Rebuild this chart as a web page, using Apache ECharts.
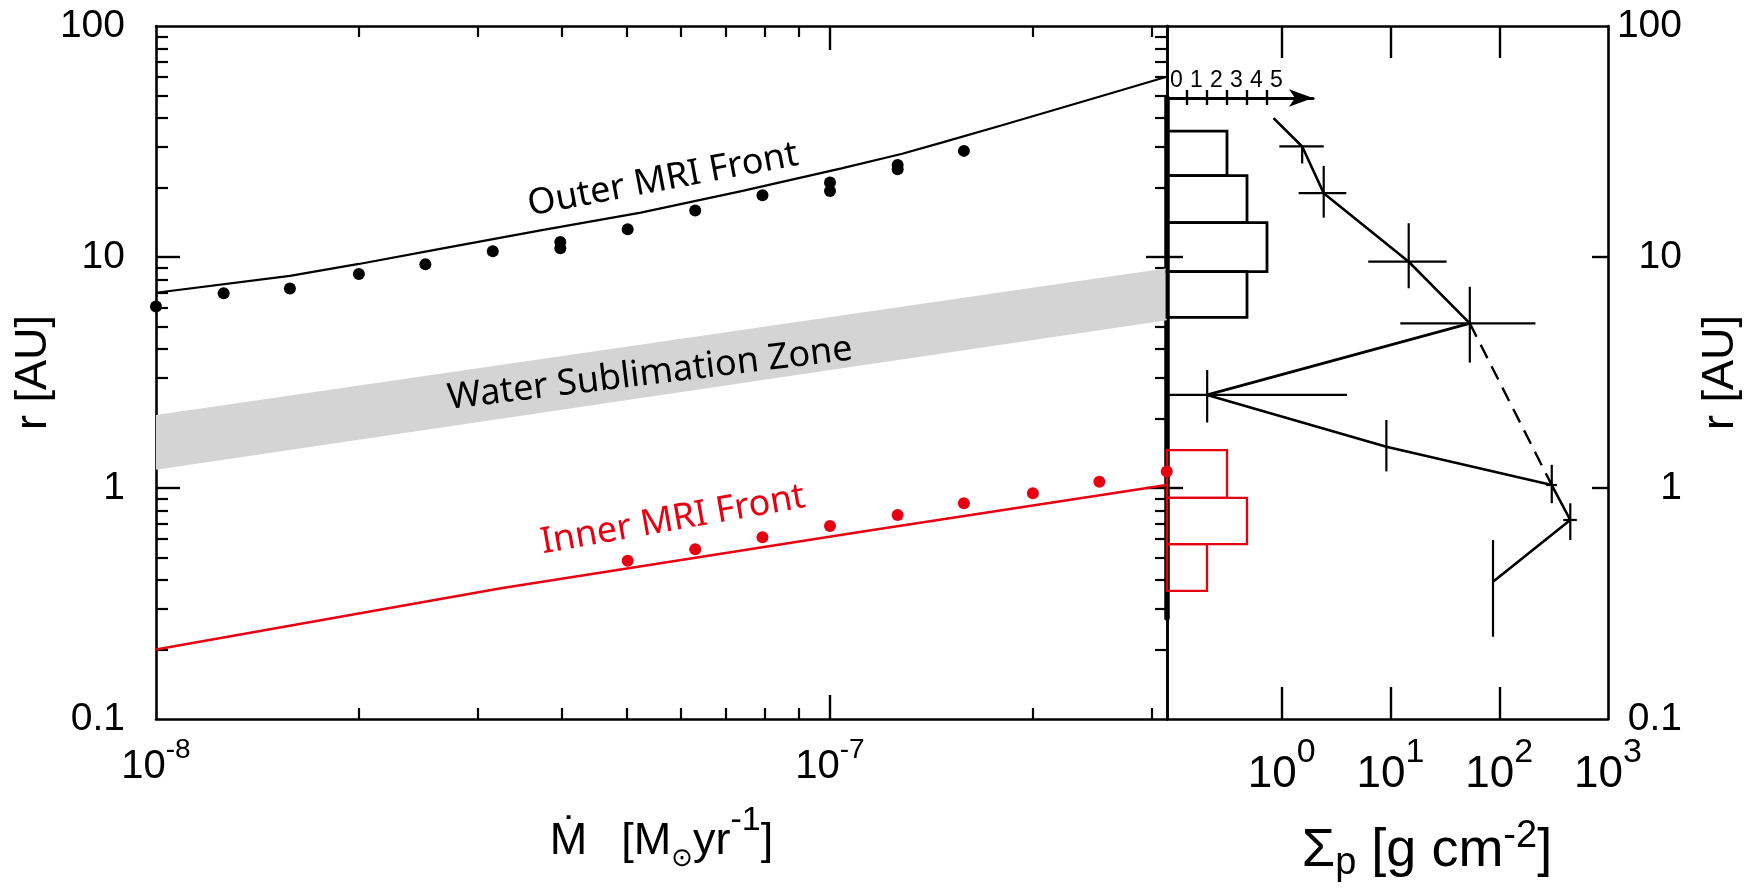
<!DOCTYPE html>
<html>
<head>
<meta charset="utf-8">
<script src="https://cdn.jsdelivr.net/npm/echarts@6/dist/echarts.min.js"></script>
<style>html,body{margin:0;padding:0;background:#fff}#c{width:1755px;height:889px}</style>
</head>
<body>
<div id="c"></div>
<script>
// ---------------- data ----------------
// left panel: accretion rate (Msun/yr) vs radius (AU)
const mdotLabelValues = [1e-8, 1e-7];
const mdotMajorTicks = [1e-7];
const mdotMinorTicks = [2e-8, 3e-8, 4e-8, 5e-8, 6e-8, 7e-8, 8e-8, 9e-8, 2e-7, 3e-7];
const rLabelValues = [0.1, 1, 10, 100];
const rMajorTicks = [1, 10];
const rMinorTicks = [0.2, 0.3, 0.4, 0.5, 0.6, 0.7, 0.8, 0.9, 2, 3, 4, 5, 6, 7, 8, 9, 20, 30, 40, 50, 60, 70, 80, 90];

const outerFrontM = [1e-8, 1.58e-8, 2e-8, 2.64e-8, 3.72e-8, 5.24e-8, 7.39e-8, 1.04e-7, 1.28e-7, 1.46e-7, 1.8e-7, 2.53e-7, 3.16e-7];
const outerFrontR = [7.0, 8.28, 9.33, 10.84, 13.03, 15.56, 19.28, 24.2, 28.0, 31.2, 37.2, 49.8, 60.3];
const outerDotsM = [1e-8, 1.26e-8, 1.58e-8, 2e-8, 2.51e-8, 3.16e-8, 3.98e-8, 3.98e-8, 5.01e-8, 6.31e-8, 7.94e-8, 1e-7, 1e-7, 1.26e-7, 1.26e-7, 1.58e-7];
const outerDotsR = [6.1, 6.96, 7.3, 8.45, 9.3, 10.6, 11.6, 10.9, 13.2, 15.9, 18.5, 21.0, 19.3, 25.0, 24.0, 28.8];

const innerFrontM = [1e-8, 3.25e-8, 1.113e-7, 3.16e-7];
const innerFrontR = [0.2, 0.368, 0.647, 1.03];
const innerDotsM = [5.01e-8, 6.31e-8, 7.94e-8, 1e-7, 1.26e-7, 1.58e-7, 2e-7, 2.51e-7, 3.16e-7];
const innerDotsR = [0.484, 0.543, 0.612, 0.685, 0.764, 0.859, 0.948, 1.065, 1.18];

const snowBandM = [1e-8, 3.16e-7];
const snowBandLow = [1.2, 5.33];
const snowBandHigh = [2.07, 8.93];

// right panel: surface density (g/cm^2) vs radius (AU)
const sigmaLabelValues = [1, 10, 100, 1000];
const sigmaTicks = [1, 10, 100];
const sigmaP  = [0.84, 1.54, 2.43, 14.7, 53.6, 0.206, 9.16, 304, 450, 87.6];
const sigmaR  = [39.9, 30.1, 18.9, 9.54, 5.16, 2.53, 1.51, 1.03, 0.727, 0.393];
const sigmaLo = [0.84, 0.95, 1.43, 6.24, 12.3, 0.092, 9.16, 270, 388, 87.6];
const sigmaHi = [0.84, 2.43, 3.92, 32.8, 215, 3.98, 9.16, 340, 517, 87.6];
const radLo   = [39.9, 25.4, 14.8, 7.32, 3.49, 1.92, 1.18, 0.859, 0.595, 0.227];
const radHi   = [39.9, 30.1, 24.8, 14.0, 7.43, 3.24, 1.97, 1.26, 0.859, 0.595];
const dashedSigma = [53.6, 304];
const dashedR = [5.16, 1.03];

// histograms (number of objects per radial bin)
const countLabelValues = [0, 1, 2, 3, 4, 5];
const countTicks = [1, 2, 3, 4, 5];
const histOuterEdges = [5.48, 8.64, 14.1, 22.5, 35.1];
const histOuterCounts = [4, 5, 4, 3];
const histInnerEdges = [0.359, 0.572, 0.908, 1.46];
const histInnerCounts = [2, 4, 3];

// axis ranges
const MDOT_RANGE = [1e-8, Math.pow(10, -6.5)];
const R_RANGE = [0.1, 100];
const SIGMA_RANGE = [0.088, 1000];
const HIST_R_RANGE = [0.274, 48.8];
const COUNT_RANGE = [0, 7.3];

// ---------------- chart ----------------
const BLACK = '#000';
const RED = '#e60012';
const FONT = '"Liberation Sans", Arial, Helvetica, sans-serif';
const NOTO = '"Noto Sans", "DejaVu Sans", sans-serif';
const axLine = { show: true, onZero: false, lineStyle: { color: BLACK, width: 2.6 } };
const noLine = { show: false, onZero: false };

function powLabel(v) {
  const e = Math.round(Math.log10(v));
  return '{b|10}{s|' + e + '}';
}
function plainLabel(v) {
  return v >= 1 ? String(Math.round(v)) : String(+v.toPrecision(2));
}
function tick(values, len, inside, width) {
  return { show: true, inside: inside, length: len, customValues: values, lineStyle: { color: BLACK, width: width || 2.4 } };
}
const off = { show: false };

const chart = echarts.init(document.getElementById('c'), null, { renderer: 'canvas' });

const grids = [
  { left: 156, top: 26, width: 1011, height: 693, outerBoundsMode: 'none', containLabel: false },
  { left: 1167, top: 26, width: 441, height: 693, outerBoundsMode: 'none', containLabel: false },
  { left: 1167, top: 98, width: 146, height: 520, outerBoundsMode: 'none', containLabel: false }
];

const leftLogX = { gridIndex: 0, type: 'log', logBase: 10, min: MDOT_RANGE[0], max: MDOT_RANGE[1], splitLine: off, minorTick: off, minorSplitLine: off };
const rightLogX = { gridIndex: 1, type: 'log', logBase: 10, min: SIGMA_RANGE[0], max: SIGMA_RANGE[1], splitLine: off, minorTick: off };
const countX = { gridIndex: 2, type: 'value', min: COUNT_RANGE[0], max: COUNT_RANGE[1], splitLine: off };

const xAxes = [
  Object.assign({}, leftLogX, {
    position: 'bottom', axisLine: axLine, axisTick: tick(mdotMajorTicks, 24, true),
    axisLabel: {
      show: true, customValues: mdotLabelValues, margin: 17, formatter: powLabel, verticalAlign: 'top',
      rich: {
        b: { fontFamily: FONT, fontSize: 40, lineHeight: 51, verticalAlign: 'bottom', color: BLACK },
        s: { fontFamily: FONT, fontSize: 28, lineHeight: 28, verticalAlign: 'top', color: BLACK }
      }
    },
    name: '{m|\u1E40}{b|  [M}{sub|\u2299}{b|yr}{sup|-1}{b|]}',
    nameLocation: 'middle', nameGap: 85, nameMoveOverlap: false,
    nameTextStyle: {
      rich: {
        m: { fontFamily: FONT, fontSize: 45, lineHeight: 68, padding: [15.5, 9, 0, 0], verticalAlign: 'top', color: BLACK },
        b: { fontFamily: FONT, fontSize: 45, lineHeight: 68, padding: [15.5, 0, 0, 0], verticalAlign: 'top', color: BLACK },
        sup: { fontFamily: FONT, fontSize: 34, lineHeight: 34, verticalAlign: 'top', color: BLACK },
        sub: { fontFamily: '"DejaVu Sans", ' + FONT, fontSize: 26, lineHeight: 26, verticalAlign: 'bottom', color: BLACK }
      }
    }
  }),
  Object.assign({}, leftLogX, { position: 'bottom', axisLine: noLine, axisTick: tick(mdotMinorTicks, 11, true, 2.2), axisLabel: off }),
  Object.assign({}, leftLogX, { position: 'top', axisLine: axLine, axisTick: tick(mdotMajorTicks, 24, true), axisLabel: off }),
  Object.assign({}, leftLogX, { position: 'top', axisLine: noLine, axisTick: tick(mdotMinorTicks, 11, true, 2.2), axisLabel: off }),
  Object.assign({}, rightLogX, {
    position: 'bottom', axisLine: axLine, axisTick: tick(sigmaTicks, 32, true),
    axisLabel: {
      show: true, customValues: sigmaLabelValues, margin: 17, formatter: powLabel, verticalAlign: 'top',
      rich: {
        b: { fontFamily: FONT, fontSize: 44, lineHeight: 61, verticalAlign: 'bottom', color: BLACK },
        s: { fontFamily: FONT, fontSize: 34, lineHeight: 34, verticalAlign: 'top', color: BLACK }
      }
    },
    name: '{b|\u03A3}{sub|p}{b| [g cm}{sup|-2}{b|]}',
    nameLocation: 'middle', nameGap: 99, nameMoveOverlap: false,
    nameTextStyle: {
      padding: [0, 0, 0, 79],
      rich: {
        b: { fontFamily: FONT, fontSize: 54, lineHeight: 65, padding: [6.6, 0, 0, 0], verticalAlign: 'top', color: BLACK },
        sup: { fontFamily: FONT, fontSize: 38, lineHeight: 38, verticalAlign: 'top', color: BLACK },
        sub: { fontFamily: FONT, fontSize: 38, lineHeight: 38, verticalAlign: 'bottom', color: BLACK }
      }
    }
  }),
  Object.assign({}, rightLogX, { position: 'top', axisLine: axLine, axisTick: tick(sigmaTicks, 32, true), axisLabel: off }),
  Object.assign({}, countX, {
    position: 'top',
    axisLine: { show: true, onZero: false, symbol: ['none', 'arrow'], symbolSize: [13, 24], lineStyle: { color: BLACK, width: 3.2 } },
    axisTick: tick(countTicks, 8, false, 2.4),
    axisLabel: { show: true, customValues: countLabelValues, margin: 6, align: 'left', padding: [0, 0, 0, 3],
      fontFamily: FONT, fontSize: 23, color: BLACK }
  }),
  Object.assign({}, countX, { position: 'top', axisLine: noLine, axisTick: tick(countTicks, 7, true, 2.4), axisLabel: off })
];

const leftLogY = { gridIndex: 0, type: 'log', logBase: 10, min: R_RANGE[0], max: R_RANGE[1], splitLine: off, minorTick: off };
const rightLogY = { gridIndex: 1, type: 'log', logBase: 10, min: R_RANGE[0], max: R_RANGE[1], splitLine: off, minorTick: off };
const rLabelStyle = { fontFamily: FONT, fontSize: 39, color: BLACK, formatter: plainLabel, customValues: rLabelValues, show: true };

const yAxes = [
  Object.assign({}, leftLogY, {
    position: 'left', axisLine: axLine, axisTick: tick(rMajorTicks, 24, true),
    axisLabel: Object.assign({}, rLabelStyle, { margin: 31 }),
    name: 'r [AU]', nameLocation: 'middle', nameGap: 100, nameRotate: 90, nameMoveOverlap: false,
    nameTextStyle: { fontFamily: FONT, fontSize: 45, color: BLACK }
  }),
  Object.assign({}, leftLogY, { position: 'left', axisLine: noLine, axisTick: tick(rMinorTicks, 12, true, 2.2), axisLabel: off }),
  Object.assign({}, leftLogY, { position: 'right', axisLine: axLine, axisTick: tick(rMajorTicks, 21, true), axisLabel: off }),
  Object.assign({}, leftLogY, { position: 'right', axisLine: noLine, axisTick: tick(rMinorTicks, 12, true, 2.2), axisLabel: off }),
  Object.assign({}, rightLogY, { position: 'left', axisLine: axLine, axisTick: tick(rMajorTicks, 16, true), axisLabel: off }),
  Object.assign({}, rightLogY, {
    position: 'right', axisLine: axLine, axisTick: tick(rMajorTicks, 16, true),
    axisLabel: Object.assign({}, rLabelStyle, { margin: 74, align: 'right' }),
    name: 'r [AU]', nameLocation: 'middle', nameGap: 90, nameRotate: 90, nameMoveOverlap: false,
    nameTextStyle: { fontFamily: FONT, fontSize: 45, color: BLACK }
  }),
  { gridIndex: 2, type: 'log', logBase: 10, min: HIST_R_RANGE[0], max: HIST_R_RANGE[1], position: 'left',
    axisLine: { show: true, onZero: false, lineStyle: { color: BLACK, width: 5.5 } }, axisTick: off, axisLabel: off, splitLine: off }
];

function bandRender(params, api) {
  if (params.dataIndex !== 0) return null;
  const pts = [];
  for (let i = 0; i < snowBandM.length; i++) pts.push(api.coord([snowBandM[i], snowBandHigh[i]]));
  for (let i = snowBandM.length - 1; i >= 0; i--) pts.push(api.coord([snowBandM[i], snowBandLow[i]]));
  return { type: 'polygon', shape: { points: pts }, style: { fill: '#d4d4d4' } };
}

function errRender(params, api) {
  const s = api.value(0), r = api.value(1);
  const sLo = api.value(2), sHi = api.value(3), rLo = api.value(4), rHi = api.value(5);
  const children = [];
  const st = { stroke: BLACK, lineWidth: 2.2 };
  if (sHi > sLo) {
    const a = api.coord([sLo, r]), b = api.coord([sHi, r]);
    children.push({ type: 'line', shape: { x1: a[0], y1: a[1], x2: b[0], y2: b[1] }, style: st });
  }
  if (rHi > rLo) {
    const a = api.coord([s, rLo]), b = api.coord([s, rHi]);
    children.push({ type: 'line', shape: { x1: a[0], y1: a[1], x2: b[0], y2: b[1] }, style: st });
  }
  return { type: 'group', children: children };
}

function histRender(color, width) {
  return function (params, api) {
    const c = api.value(0), lo = api.value(1), hi = api.value(2);
    const p0 = api.coord([0, hi]);
    const p1 = api.coord([c, lo]);
    return { type: 'rect', shape: { x: p0[0], y: p0[1], width: p1[0] - p0[0], height: p1[1] - p0[1] },
      style: { fill: 'none', stroke: color, lineWidth: width } };
  };
}

const series = [
  { type: 'custom', name: 'Water Sublimation Zone', xAxisIndex: 0, yAxisIndex: 0, silent: true, z: 1,
    data: snowBandM.map((m, i) => [m, snowBandLow[i], snowBandHigh[i]]),
    encode: { x: 0, y: [1, 2] }, renderItem: bandRender },
  { type: 'line', name: 'Outer MRI Front', xAxisIndex: 0, yAxisIndex: 0, z: 3, symbol: 'none', smooth: false,
    data: outerFrontM.map((m, i) => [m, outerFrontR[i]]), lineStyle: { color: BLACK, width: 2.2 } },
  { type: 'line', name: 'Inner MRI Front', xAxisIndex: 0, yAxisIndex: 0, z: 3, symbol: 'none', smooth: false,
    data: innerFrontM.map((m, i) => [m, innerFrontR[i]]), lineStyle: { color: RED, width: 2.6 } },
  { type: 'scatter', name: 'outer sims', xAxisIndex: 0, yAxisIndex: 0, z: 4, symbolSize: 12,
    data: outerDotsM.map((m, i) => [m, outerDotsR[i]]), itemStyle: { color: BLACK, opacity: 1 } },
  { type: 'scatter', name: 'inner sims', xAxisIndex: 0, yAxisIndex: 0, z: 4, symbolSize: 12, clip: false,
    data: innerDotsM.map((m, i) => [m, innerDotsR[i]]), itemStyle: { color: RED, opacity: 1 } },

  { type: 'line', name: 'Sigma_p', xAxisIndex: 4, yAxisIndex: 4, z: 3, symbol: 'none',
    data: sigmaP.map((s, i) => [s, sigmaR[i]]), lineStyle: { color: BLACK, width: 2.6 } },
  { type: 'line', name: 'Sigma_p dashed', xAxisIndex: 4, yAxisIndex: 4, z: 3, symbol: 'none',
    data: dashedSigma.map((s, i) => [s, dashedR[i]]), lineStyle: { color: BLACK, width: 2.4, type: [15, 9] } },
  { type: 'custom', name: 'errors', xAxisIndex: 4, yAxisIndex: 4, z: 4, silent: true,
    data: sigmaP.map((s, i) => [s, sigmaR[i], sigmaLo[i], sigmaHi[i], radLo[i], radHi[i]]),
    encode: { x: [0, 2, 3], y: [1, 4, 5] }, renderItem: errRender },

  { type: 'custom', name: 'hist outer', xAxisIndex: 6, yAxisIndex: 6, z: 4, silent: true,
    data: histOuterCounts.map((c, i) => [c, histOuterEdges[i], histOuterEdges[i + 1]]),
    encode: { x: 0, y: [1, 2] }, renderItem: histRender(BLACK, 2.8) },
  { type: 'custom', name: 'hist inner', xAxisIndex: 6, yAxisIndex: 6, z: 4, silent: true,
    data: histInnerCounts.map((c, i) => [c, histInnerEdges[i], histInnerEdges[i + 1]]),
    encode: { x: 0, y: [1, 2] }, renderItem: histRender(RED, 2.3) }
];

const deg = Math.PI / 180;
const option = {
  animation: false,
  backgroundColor: '#fff',
  textStyle: { fontFamily: FONT },
  grid: grids,
  xAxis: xAxes,
  yAxis: yAxes,
  series: series,
  graphic: [
    { type: 'text', x: 663, y: 180, rotation: 10.7 * deg, z: 10,
      style: { text: 'Outer MRI Front', fontFamily: NOTO, fontSize: 36, fill: BLACK, align: 'center', verticalAlign: 'middle' } },
    { type: 'text', x: 650, y: 374, rotation: 7.0 * deg, z: 10,
      style: { text: 'Water Sublimation Zone', fontFamily: NOTO, fontSize: 36, fill: BLACK, align: 'center', verticalAlign: 'middle' } },
    { type: 'text', x: 673, y: 520, rotation: 10 * deg, z: 10,
      style: { text: 'Inner MRI Front', fontFamily: NOTO, fontSize: 36, fill: RED, align: 'center', verticalAlign: 'middle' } }
  ]
};
chart.setOption(option);
</script>
</body>
</html>
